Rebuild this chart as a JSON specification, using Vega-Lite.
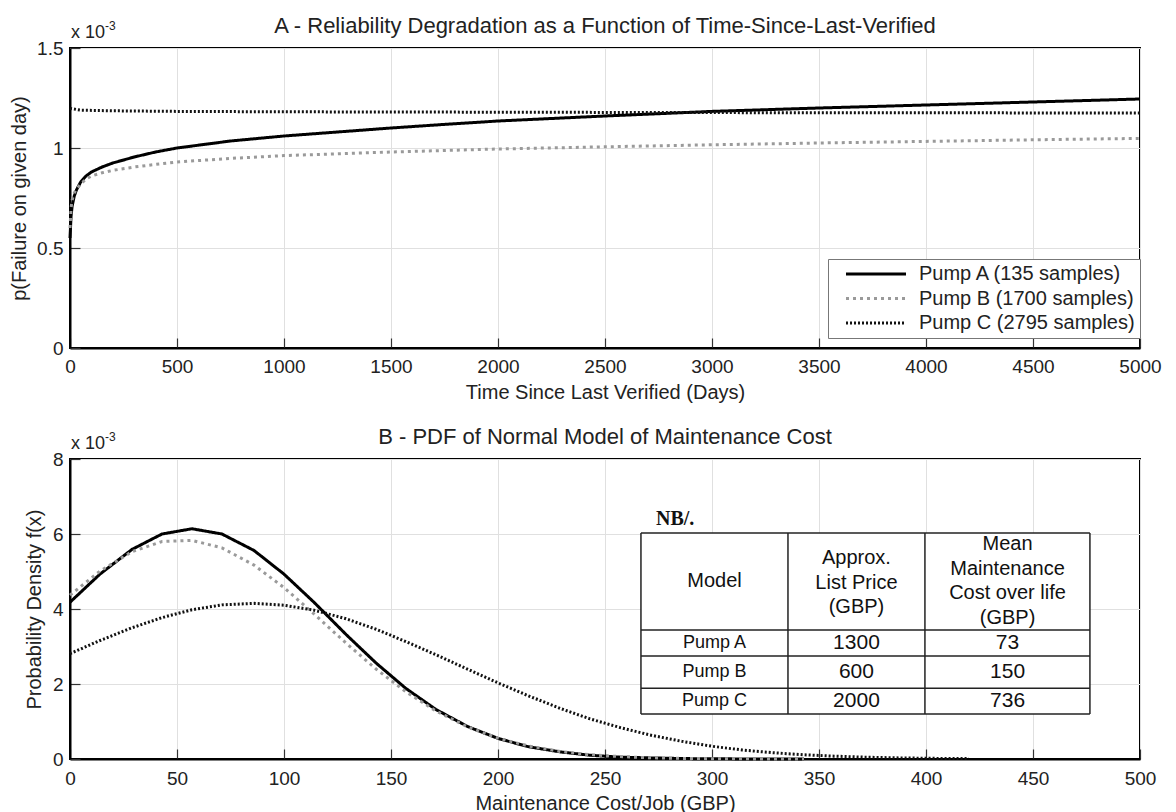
{
  "$schema": "https://vega.github.io/schema/vega-lite/v6.json",
  "background": "#ffffff",
  "padding": {"left": 8, "top": 14, "right": 12, "bottom": 0},
  "spacing": 22,
  "config": {
    "font": "Liberation Sans",
    "view": {"stroke": "#000000", "strokeWidth": 2},
    "axis": {
      "labelFont": "Liberation Sans", "labelFontSize": 19, "labelColor": "#222222",
      "titleFont": "Liberation Sans", "titleFontSize": 20, "titleFontWeight": "normal", "titleColor": "#222222",
      "domainColor": "#000000", "domainWidth": 2,
      "gridColor": "#e0e0e0", "gridWidth": 1,
      "tickColor": "#333333", "tickSize": -10, "tickWidth": 1.2,
      "labelFlush": false
    },
    "title": {"font": "Liberation Sans", "fontSize": 22, "fontWeight": "normal", "color": "#222222"}
  },
  "resolve": {
    "scale": {"color": "independent", "strokeDash": "independent"},
    "legend": {"color": "independent", "strokeDash": "independent"}
  },
  "datasets": {
    "reliability": [
      {"series": "Pump A (135 samples)", "days": 0, "p": 0.55},
      {"series": "Pump A (135 samples)", "days": 5, "p": 0.66},
      {"series": "Pump A (135 samples)", "days": 10, "p": 0.71},
      {"series": "Pump A (135 samples)", "days": 20, "p": 0.76},
      {"series": "Pump A (135 samples)", "days": 30, "p": 0.79},
      {"series": "Pump A (135 samples)", "days": 50, "p": 0.83},
      {"series": "Pump A (135 samples)", "days": 75, "p": 0.86},
      {"series": "Pump A (135 samples)", "days": 100, "p": 0.88},
      {"series": "Pump A (135 samples)", "days": 150, "p": 0.905},
      {"series": "Pump A (135 samples)", "days": 200, "p": 0.925},
      {"series": "Pump A (135 samples)", "days": 300, "p": 0.955},
      {"series": "Pump A (135 samples)", "days": 400, "p": 0.98},
      {"series": "Pump A (135 samples)", "days": 500, "p": 1.0},
      {"series": "Pump A (135 samples)", "days": 750, "p": 1.035},
      {"series": "Pump A (135 samples)", "days": 1000, "p": 1.06},
      {"series": "Pump A (135 samples)", "days": 1250, "p": 1.08},
      {"series": "Pump A (135 samples)", "days": 1500, "p": 1.1},
      {"series": "Pump A (135 samples)", "days": 1750, "p": 1.118},
      {"series": "Pump A (135 samples)", "days": 2000, "p": 1.135},
      {"series": "Pump A (135 samples)", "days": 2500, "p": 1.16},
      {"series": "Pump A (135 samples)", "days": 3000, "p": 1.183},
      {"series": "Pump A (135 samples)", "days": 3500, "p": 1.2},
      {"series": "Pump A (135 samples)", "days": 4000, "p": 1.215},
      {"series": "Pump A (135 samples)", "days": 4500, "p": 1.23},
      {"series": "Pump A (135 samples)", "days": 5000, "p": 1.245},
      {"series": "Pump B (1700 samples)", "days": 0, "p": 0.6},
      {"series": "Pump B (1700 samples)", "days": 5, "p": 0.7},
      {"series": "Pump B (1700 samples)", "days": 10, "p": 0.74},
      {"series": "Pump B (1700 samples)", "days": 20, "p": 0.775},
      {"series": "Pump B (1700 samples)", "days": 30, "p": 0.795},
      {"series": "Pump B (1700 samples)", "days": 50, "p": 0.82},
      {"series": "Pump B (1700 samples)", "days": 75, "p": 0.845},
      {"series": "Pump B (1700 samples)", "days": 100, "p": 0.86},
      {"series": "Pump B (1700 samples)", "days": 150, "p": 0.876},
      {"series": "Pump B (1700 samples)", "days": 200, "p": 0.888},
      {"series": "Pump B (1700 samples)", "days": 300, "p": 0.905},
      {"series": "Pump B (1700 samples)", "days": 400, "p": 0.918},
      {"series": "Pump B (1700 samples)", "days": 500, "p": 0.93},
      {"series": "Pump B (1700 samples)", "days": 750, "p": 0.948},
      {"series": "Pump B (1700 samples)", "days": 1000, "p": 0.962},
      {"series": "Pump B (1700 samples)", "days": 1500, "p": 0.98},
      {"series": "Pump B (1700 samples)", "days": 2000, "p": 0.995},
      {"series": "Pump B (1700 samples)", "days": 2500, "p": 1.006},
      {"series": "Pump B (1700 samples)", "days": 3000, "p": 1.016},
      {"series": "Pump B (1700 samples)", "days": 3500, "p": 1.025},
      {"series": "Pump B (1700 samples)", "days": 4000, "p": 1.033},
      {"series": "Pump B (1700 samples)", "days": 4500, "p": 1.041},
      {"series": "Pump B (1700 samples)", "days": 5000, "p": 1.048},
      {"series": "Pump C (2795 samples)", "days": 0, "p": 1.198},
      {"series": "Pump C (2795 samples)", "days": 50, "p": 1.189},
      {"series": "Pump C (2795 samples)", "days": 200, "p": 1.186},
      {"series": "Pump C (2795 samples)", "days": 500, "p": 1.183},
      {"series": "Pump C (2795 samples)", "days": 1000, "p": 1.181},
      {"series": "Pump C (2795 samples)", "days": 2000, "p": 1.179},
      {"series": "Pump C (2795 samples)", "days": 3000, "p": 1.177},
      {"series": "Pump C (2795 samples)", "days": 4000, "p": 1.176},
      {"series": "Pump C (2795 samples)", "days": 5000, "p": 1.175}
    ],
    "cost": [
      {"pump": "Pump A", "cost": 0, "density": 4.18},
      {"pump": "Pump A", "cost": 14, "density": 4.93},
      {"pump": "Pump A", "cost": 29, "density": 5.59},
      {"pump": "Pump A", "cost": 43, "density": 6.0},
      {"pump": "Pump A", "cost": 57, "density": 6.14},
      {"pump": "Pump A", "cost": 71, "density": 6.0},
      {"pump": "Pump A", "cost": 86, "density": 5.56},
      {"pump": "Pump A", "cost": 100, "density": 4.93},
      {"pump": "Pump A", "cost": 114, "density": 4.18},
      {"pump": "Pump A", "cost": 129, "density": 3.32},
      {"pump": "Pump A", "cost": 143, "density": 2.56},
      {"pump": "Pump A", "cost": 157, "density": 1.88},
      {"pump": "Pump A", "cost": 171, "density": 1.32},
      {"pump": "Pump A", "cost": 186, "density": 0.86},
      {"pump": "Pump A", "cost": 200, "density": 0.55},
      {"pump": "Pump A", "cost": 214, "density": 0.33},
      {"pump": "Pump A", "cost": 229, "density": 0.19},
      {"pump": "Pump A", "cost": 243, "density": 0.1},
      {"pump": "Pump A", "cost": 257, "density": 0.05},
      {"pump": "Pump A", "cost": 271, "density": 0.03},
      {"pump": "Pump A", "cost": 286, "density": 0.012},
      {"pump": "Pump A", "cost": 300, "density": 0.006},
      {"pump": "Pump A", "cost": 314, "density": 0.002},
      {"pump": "Pump A", "cost": 329, "density": 0.001},
      {"pump": "Pump A", "cost": 343, "density": 0},
      {"pump": "Pump B", "cost": 0, "density": 4.37},
      {"pump": "Pump B", "cost": 14, "density": 5.01},
      {"pump": "Pump B", "cost": 29, "density": 5.53},
      {"pump": "Pump B", "cost": 43, "density": 5.8},
      {"pump": "Pump B", "cost": 57, "density": 5.83},
      {"pump": "Pump B", "cost": 71, "density": 5.63},
      {"pump": "Pump B", "cost": 86, "density": 5.17},
      {"pump": "Pump B", "cost": 100, "density": 4.57},
      {"pump": "Pump B", "cost": 114, "density": 3.87},
      {"pump": "Pump B", "cost": 129, "density": 3.09},
      {"pump": "Pump B", "cost": 143, "density": 2.4},
      {"pump": "Pump B", "cost": 157, "density": 1.79},
      {"pump": "Pump B", "cost": 171, "density": 1.28},
      {"pump": "Pump B", "cost": 186, "density": 0.85},
      {"pump": "Pump B", "cost": 200, "density": 0.555},
      {"pump": "Pump B", "cost": 214, "density": 0.35},
      {"pump": "Pump B", "cost": 229, "density": 0.2},
      {"pump": "Pump B", "cost": 243, "density": 0.116},
      {"pump": "Pump B", "cost": 257, "density": 0.064},
      {"pump": "Pump B", "cost": 271, "density": 0.034},
      {"pump": "Pump B", "cost": 286, "density": 0.016},
      {"pump": "Pump B", "cost": 300, "density": 0.008},
      {"pump": "Pump B", "cost": 314, "density": 0.004},
      {"pump": "Pump B", "cost": 329, "density": 0.002},
      {"pump": "Pump B", "cost": 343, "density": 0.001},
      {"pump": "Pump C", "cost": 0, "density": 2.81},
      {"pump": "Pump C", "cost": 14, "density": 3.16},
      {"pump": "Pump C", "cost": 29, "density": 3.5},
      {"pump": "Pump C", "cost": 43, "density": 3.77},
      {"pump": "Pump C", "cost": 57, "density": 3.98},
      {"pump": "Pump C", "cost": 71, "density": 4.11},
      {"pump": "Pump C", "cost": 86, "density": 4.15},
      {"pump": "Pump C", "cost": 100, "density": 4.1},
      {"pump": "Pump C", "cost": 114, "density": 3.97},
      {"pump": "Pump C", "cost": 129, "density": 3.74},
      {"pump": "Pump C", "cost": 143, "density": 3.46},
      {"pump": "Pump C", "cost": 157, "density": 3.13},
      {"pump": "Pump C", "cost": 171, "density": 2.78},
      {"pump": "Pump C", "cost": 186, "density": 2.39},
      {"pump": "Pump C", "cost": 200, "density": 2.03},
      {"pump": "Pump C", "cost": 214, "density": 1.69},
      {"pump": "Pump C", "cost": 229, "density": 1.35},
      {"pump": "Pump C", "cost": 243, "density": 1.07},
      {"pump": "Pump C", "cost": 257, "density": 0.84},
      {"pump": "Pump C", "cost": 271, "density": 0.64},
      {"pump": "Pump C", "cost": 286, "density": 0.47},
      {"pump": "Pump C", "cost": 300, "density": 0.34},
      {"pump": "Pump C", "cost": 314, "density": 0.24},
      {"pump": "Pump C", "cost": 329, "density": 0.165},
      {"pump": "Pump C", "cost": 343, "density": 0.113},
      {"pump": "Pump C", "cost": 357, "density": 0.076},
      {"pump": "Pump C", "cost": 371, "density": 0.049},
      {"pump": "Pump C", "cost": 386, "density": 0.031},
      {"pump": "Pump C", "cost": 400, "density": 0.019},
      {"pump": "Pump C", "cost": 414, "density": 0.012},
      {"pump": "Pump C", "cost": 420, "density": 0.01}
    ],
    "tableBox": [
      {"cost": 266.8, "cost2": 476.6, "density": 1.2, "density2": 6.03}
    ],
    "tableLines": [
      {"cost": 266.8, "cost2": 476.6, "density": 6.03, "density2": 6.03},
      {"cost": 266.8, "cost2": 476.6, "density": 3.44, "density2": 3.44},
      {"cost": 266.8, "cost2": 476.6, "density": 2.75, "density2": 2.75},
      {"cost": 266.8, "cost2": 476.6, "density": 1.89, "density2": 1.89},
      {"cost": 266.8, "cost2": 476.6, "density": 1.2, "density2": 1.2},
      {"cost": 266.8, "cost2": 266.8, "density": 1.2, "density2": 6.03},
      {"cost": 335.5, "cost2": 335.5, "density": 1.2, "density2": 6.03},
      {"cost": 399.5, "cost2": 399.5, "density": 1.2, "density2": 6.03},
      {"cost": 476.6, "cost2": 476.6, "density": 1.2, "density2": 6.03}
    ],
    "tableHeader": [
      {"label": "Model", "cost": 301.2, "density": 4.75},
      {"label": "Approx.\nList Price\n(GBP)", "cost": 367.5, "density": 5.36},
      {"label": "Mean\nMaintenance\nCost over life\n(GBP)", "cost": 438.1, "density": 5.73}
    ],
    "tableNames": [
      {"label": "Pump A", "cost": 301.2, "density": 3.09},
      {"label": "Pump B", "cost": 301.2, "density": 2.32},
      {"label": "Pump C", "cost": 301.2, "density": 1.55}
    ],
    "tableNumbers": [
      {"label": "1300", "cost": 367.5, "density": 3.09},
      {"label": "600", "cost": 367.5, "density": 2.32},
      {"label": "2000", "cost": 367.5, "density": 1.55},
      {"label": "73", "cost": 438.1, "density": 3.09},
      {"label": "150", "cost": 438.1, "density": 2.32},
      {"label": "736", "cost": 438.1, "density": 1.55}
    ],
    "note": [
      {"label": "NB/.", "cost": 273.8, "density": 6.4}
    ],
    "anchorA": [
      {"days": 0, "p": 1.5}
    ],
    "anchorB": [
      {"cost": 0, "density": 8}
    ]
  },
  "vconcat": [
    {
      "title": {"text": "A - Reliability Degradation as a Function of Time-Since-Last-Verified", "offset": -18},
      "width": 1070,
      "height": 300,
      "layer": [
        {
          "data": {"name": "reliability"},
          "mark": {"type": "line", "strokeWidth": 3},
          "encoding": {
            "x": {"field": "days", "type": "quantitative",
                  "scale": {"domain": [0, 5000], "nice": false},
                  "axis": {"title": "Time Since Last Verified (Days)", "values": [0, 500, 1000, 1500, 2000, 2500, 3000, 3500, 4000, 4500, 5000], "format": "d", "labelPadding": 19, "titlePadding": 6}},
            "y": {"field": "p", "type": "quantitative",
                  "scale": {"domain": [0, 1.5], "nice": false},
                  "axis": {"title": "p(Failure on given day)", "values": [0, 0.5, 1, 1.5], "format": "~g", "labelPadding": 17, "titlePadding": 7}},
            "color": {"field": "series", "type": "nominal",
                      "scale": {"domain": ["Pump A (135 samples)", "Pump B (1700 samples)", "Pump C (2795 samples)"], "range": ["#000000", "#9a9a9a", "#111111"]},
                      "legend": {"orient": "none", "legendX": 758, "legendY": 211, "title": null, "symbolType": "M0.6,0H12.6", "symbolSize": 100, "symbolStrokeWidth": 3, "labelFontSize": 20, "labelFont": "Liberation Sans", "labelColor": "#222222", "labelOffset": 66, "labelLimit": 400, "padding": 5, "rowPadding": 4.5, "strokeColor": "#777777", "fillColor": "#ffffff"}},
            "strokeDash": {"field": "series", "type": "nominal",
                      "scale": {"domain": ["Pump A (135 samples)", "Pump B (1700 samples)", "Pump C (2795 samples)"], "range": [[1, 0], [3, 4], [2, 2]]},
                      "legend": {"orient": "none", "legendX": 758, "legendY": 211, "title": null, "symbolType": "M0.6,0H12.6", "symbolSize": 100, "symbolStrokeWidth": 3, "labelFontSize": 20, "labelFont": "Liberation Sans", "labelColor": "#222222", "labelOffset": 66, "labelLimit": 400, "padding": 5, "rowPadding": 4.5, "strokeColor": "#777777", "fillColor": "#ffffff"}}
          }
        },
        {
          "data": {"name": "anchorA"},
          "mark": {"type": "text", "text": "x 10", "align": "left", "baseline": "alphabetic", "dx": 1, "dy": -10, "fontSize": 18, "color": "#222222"},
          "encoding": {"x": {"field": "days", "type": "quantitative"}, "y": {"field": "p", "type": "quantitative"}}
        },
        {
          "data": {"name": "anchorA"},
          "mark": {"type": "text", "text": "-3", "align": "left", "baseline": "alphabetic", "dx": 35, "dy": -18, "fontSize": 12, "color": "#222222"},
          "encoding": {"x": {"field": "days", "type": "quantitative"}, "y": {"field": "p", "type": "quantitative"}}
        }
      ]
    },
    {
      "title": {"text": "B - PDF of Normal Model of Maintenance Cost", "offset": -18},
      "width": 1070,
      "height": 300,
      "layer": [
        {
          "data": {"name": "tableBox"},
          "mark": {"type": "rect", "fill": "#ffffff"},
          "encoding": {
            "x": {"field": "cost", "type": "quantitative"},
            "x2": {"field": "cost2"},
            "y": {"field": "density", "type": "quantitative"},
            "y2": {"field": "density2"}
          }
        },
        {
          "data": {"name": "cost"},
          "mark": {"type": "line", "strokeWidth": 3},
          "encoding": {
            "x": {"field": "cost", "type": "quantitative",
                  "scale": {"domain": [0, 500], "nice": false},
                  "axis": {"title": "Maintenance Cost/Job (GBP)", "values": [0, 50, 100, 150, 200, 250, 300, 350, 400, 450, 500], "format": "d", "labelPadding": 20, "titlePadding": 5}},
            "y": {"field": "density", "type": "quantitative",
                  "scale": {"domain": [0, 8], "nice": false},
                  "axis": {"title": "Probability Density f(x)", "values": [0, 2, 4, 6, 8], "format": "d", "labelPadding": 17, "titlePadding": 8}},
            "color": {"field": "pump", "type": "nominal",
                      "scale": {"domain": ["Pump A", "Pump B", "Pump C"], "range": ["#000000", "#9a9a9a", "#111111"]},
                      "legend": null},
            "strokeDash": {"field": "pump", "type": "nominal",
                      "scale": {"domain": ["Pump A", "Pump B", "Pump C"], "range": [[1, 0], [3, 4], [2, 2]]},
                      "legend": null}
          }
        },
        {
          "data": {"name": "tableLines"},
          "mark": {"type": "rule", "color": "#222222", "strokeWidth": 1.5},
          "encoding": {
            "x": {"field": "cost", "type": "quantitative"},
            "x2": {"field": "cost2"},
            "y": {"field": "density", "type": "quantitative"},
            "y2": {"field": "density2"}
          }
        },
        {
          "data": {"name": "tableHeader"},
          "mark": {"type": "text", "align": "center", "baseline": "middle", "fontSize": 20, "lineBreak": "\n", "lineHeight": 24.5, "color": "#111111"},
          "encoding": {
            "x": {"field": "cost", "type": "quantitative"},
            "y": {"field": "density", "type": "quantitative"},
            "text": {"field": "label"}
          }
        },
        {
          "data": {"name": "tableNames"},
          "mark": {"type": "text", "align": "center", "baseline": "middle", "fontSize": 18, "color": "#111111"},
          "encoding": {
            "x": {"field": "cost", "type": "quantitative"},
            "y": {"field": "density", "type": "quantitative"},
            "text": {"field": "label"}
          }
        },
        {
          "data": {"name": "tableNumbers"},
          "mark": {"type": "text", "align": "center", "baseline": "middle", "fontSize": 21, "color": "#111111"},
          "encoding": {
            "x": {"field": "cost", "type": "quantitative"},
            "y": {"field": "density", "type": "quantitative"},
            "text": {"field": "label"}
          }
        },
        {
          "data": {"name": "note"},
          "mark": {"type": "text", "align": "left", "baseline": "middle", "font": "Liberation Serif", "fontWeight": "bold", "fontSize": 20, "color": "#111111"},
          "encoding": {"x": {"field": "cost", "type": "quantitative"}, "y": {"field": "density", "type": "quantitative"}, "text": {"field": "label"}}
        },
        {
          "data": {"name": "anchorB"},
          "mark": {"type": "text", "text": "x 10", "align": "left", "baseline": "alphabetic", "dx": 1, "dy": -10, "fontSize": 18, "color": "#222222"},
          "encoding": {"x": {"field": "cost", "type": "quantitative"}, "y": {"field": "density", "type": "quantitative"}}
        },
        {
          "data": {"name": "anchorB"},
          "mark": {"type": "text", "text": "-3", "align": "left", "baseline": "alphabetic", "dx": 35, "dy": -18, "fontSize": 12, "color": "#222222"},
          "encoding": {"x": {"field": "cost", "type": "quantitative"}, "y": {"field": "density", "type": "quantitative"}}
        }
      ]
    }
  ]
}
